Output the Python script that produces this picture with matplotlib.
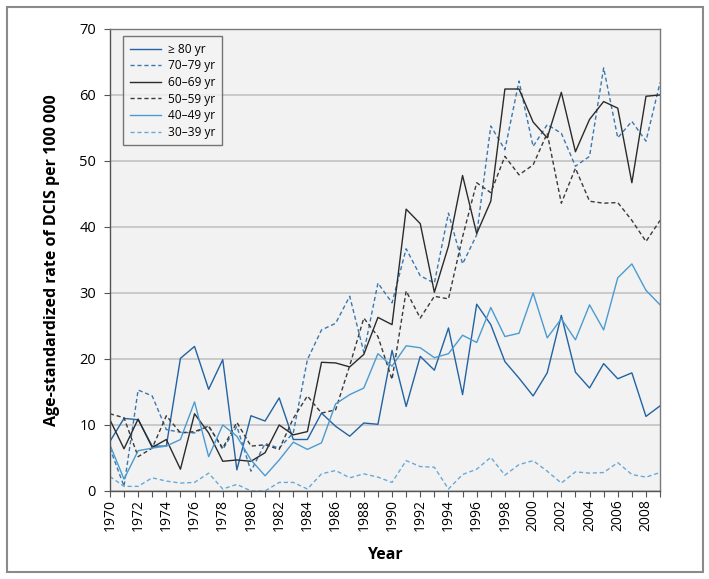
import matplotlib.pyplot as plt
from matplotlib.patches import Rectangle

years = list(range(1970, 2010))

age_80_plus = [7.5, 11.0, 10.8, 6.8, 6.8, 20.1, 21.9, 15.4, 19.9, 3.2,
               11.4, 10.6, 14.1, 7.8, 7.8, 11.8, 9.8, 8.3, 10.3, 10.1,
               21.3, 12.8, 20.4, 18.3, 24.7, 14.6, 28.3, 25.2, 19.6, 17.1,
               14.4, 17.9, 26.6, 18.0, 15.6, 19.3, 17.0, 17.9, 11.3, 12.9]
age_70_79 = [6.5, 0.7, 15.3, 14.4, 9.3, 8.9, 8.8, 9.9, 6.3, 9.8,
             3.0, 7.2, 6.5, 8.8, 19.9, 24.4, 25.4, 29.5, 21.0, 31.5,
             28.5, 36.7, 32.6, 31.5, 42.1, 34.4, 38.8, 55.3, 51.7, 62.1,
             52.2, 55.5, 54.2, 49.2, 50.7, 64.1, 53.5, 56.0, 53.0, 61.9]
age_60_69 = [10.8, 6.4, 10.9, 6.6, 7.8, 3.3, 11.7, 8.8, 4.5, 4.7,
             4.5, 5.8, 10.0, 8.5, 9.0, 19.5, 19.4, 18.8, 20.7, 26.3,
             25.2, 42.7, 40.5, 30.1, 37.1, 47.8, 39.0, 43.9, 60.9, 60.9,
             55.9, 53.5, 60.4, 51.4, 56.3, 59.0, 58.0, 46.7, 59.8, 60.0]
age_50_59 = [11.7, 11.1, 5.2, 6.5, 11.4, 8.8, 9.0, 9.8, 6.5, 10.4,
             6.8, 7.0, 6.3, 11.0, 14.4, 11.8, 12.3, 19.0, 26.2, 23.4,
             16.9, 30.3, 26.2, 29.5, 29.1, 38.5, 46.7, 45.2, 50.7, 47.9,
             49.4, 54.2, 43.6, 48.9, 43.9, 43.6, 43.7, 41.0, 37.8, 41.0]
age_40_49 = [7.0, 1.8, 6.1, 6.5, 6.8, 7.8, 13.5, 5.2, 10.0, 8.3,
             4.7, 2.3, 4.7, 7.4, 6.3, 7.3, 13.2, 14.6, 15.6, 20.8,
             18.9, 22.0, 21.7, 20.2, 20.8, 23.6, 22.5, 27.8, 23.4, 23.9,
             30.0, 23.2, 26.1, 22.9, 28.2, 24.4, 32.3, 34.4, 30.4, 28.2]
age_30_39 = [2.2, 0.7, 0.7, 2.0, 1.5, 1.2, 1.3, 2.7, 0.3, 1.0,
             0.0, 0.0, 1.3, 1.3, 0.3, 2.6, 3.1, 2.0, 2.6, 2.1,
             1.3, 4.6, 3.7, 3.6, 0.3, 2.5, 3.3, 5.1, 2.4, 4.0,
             4.6, 3.0, 1.2, 2.9, 2.7, 2.8, 4.3, 2.5, 2.1, 2.8]

series_labels = ["\u2265 80 yr", "70\u201379 yr", "60\u201369 yr",
                 "50\u201359 yr", "40\u201349 yr", "30\u201339 yr"]

plt.rcParams['font.family'] = ['Open Sans', 'DejaVu Sans']

fig = plt.figure(figsize=(7.09, 5.79), dpi=100)
ax = fig.add_axes([0.155, 0.152, 0.776, 0.798])
ax.set_facecolor('#f2f2f2')

# outer frame around the whole figure
fig.patches.append(Rectangle((0.010, 0.012), 0.982, 0.976, transform=fig.transFigure,
                             fill=False, edgecolor='#8a8a8a', linewidth=1.5))

styles = [
    (age_80_plus, '#2263a3', '-'),
    (age_70_79, '#3a78b0', (0, (3, 2))),
    (age_60_69, '#2b2b2b', '-'),
    (age_50_59, '#3a3a3a', (0, (3, 2))),
    (age_40_49, '#4b9bd0', '-'),
    (age_30_39, '#68a9d8', (0, (3, 2))),
]
for (vals, color, ls), label in zip(styles, series_labels):
    ax.plot(years, vals, color=color, linestyle=ls, linewidth=1.0, label=label)

ax.set_xlim(1970, 2009)
ax.set_ylim(0, 70)
ax.set_yticks(range(0, 71, 10))
ax.set_xticks(years)
ax.set_xticklabels([str(y) if y % 2 == 0 else '' for y in years], rotation=90)
ax.tick_params(axis='x', length=4, width=0.8, color='#555555', labelsize=10, pad=2)
ax.tick_params(axis='y', length=4, width=0.8, color='#555555', labelsize=10.5, pad=6)
ax.grid(axis='y', color='#c3c3c3', linewidth=1.2)
ax.set_axisbelow(True)

for side in ['left', 'bottom']:
    ax.spines[side].set_color('#555555')
    ax.spines[side].set_linewidth(1.0)
for side in ['top', 'right']:
    ax.spines[side].set_color('#7a7a7a')
    ax.spines[side].set_linewidth(1.0)

ax.set_xlabel("Year", fontsize=11.5, fontweight='bold', labelpad=11)
ax.set_ylabel("Age-standardized rate of DCIS per 100 000", fontsize=11.5,
              fontweight='bold', labelpad=14)

leg = ax.legend(loc='upper left', bbox_to_anchor=(0.024, 0.984), fontsize=8.6,
                frameon=True, fancybox=False, handlelength=2.6,
                labelspacing=0.3, borderpad=0.55, handletextpad=0.65,
                borderaxespad=0)
leg.get_frame().set_edgecolor('#555555')
leg.get_frame().set_facecolor('#f4f4f4')
leg.get_frame().set_linewidth(1.0)

plt.savefig('out.png', dpi=100)
